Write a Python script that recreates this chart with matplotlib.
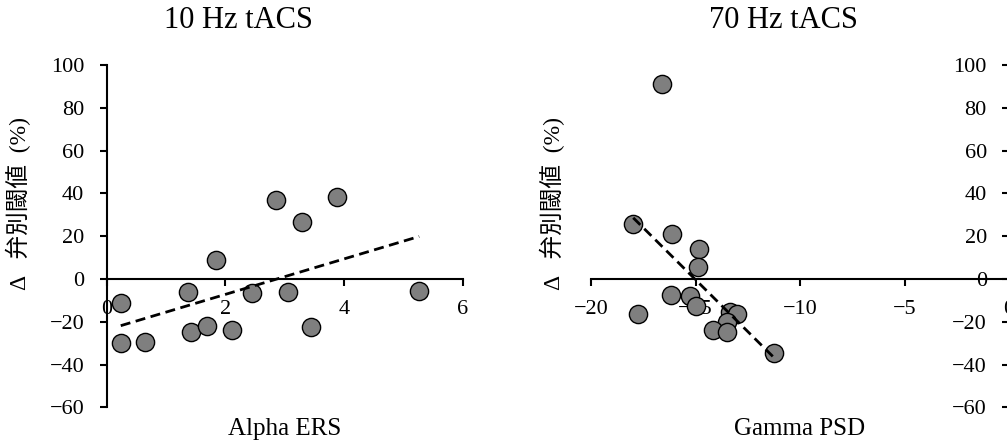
import numpy as np
import matplotlib
matplotlib.use("Agg")
import matplotlib.pyplot as plt

plt.rcParams['font.family'] = ['Liberation Serif', 'Noto Sans CJK JP']

# 10 Hz tACS: Alpha ERS vs change in discrimination threshold
alpha_ers = [0.25, 0.24, 0.65, 1.38, 1.42, 1.70, 1.85, 2.12, 2.45, 2.85, 3.06, 3.30, 3.45, 3.88, 5.27]
alpha_dthr = [-11.4, -29.9, -29.6, -5.9, -24.9, -21.8, 8.9, -23.7, -6.5, 36.9, -5.9, 26.4, -22.3, 38.5, -5.5]

# 70 Hz tACS: Gamma PSD vs change in discrimination threshold
gamma_psd = [-16.62, -17.98, -16.14, -14.82, -14.90, -17.74, -16.17, -15.26, -14.98, -13.35,
             -13.00, -13.48, -14.15, -13.51, -11.24]
gamma_dthr = [91.1, 25.8, 21.1, 14.1, 5.8, -16.4, -7.4, -7.8, -12.5, -15.6,
              -16.4, -19.9, -23.9, -24.7, -34.4]

titles = ['10 Hz tACS', '70 Hz tACS']
xlabels = ['Alpha ERS', 'Gamma PSD']
ylabel = 'Δ   弁別閾値  (%)'
yticks = [-60, -40, -20, 0, 20, 40, 60, 80, 100]

W, H = 1007, 441
fig = plt.figure(figsize=(W / 100, H / 100), dpi=100)

ax1 = fig.add_axes([106.5 / W, (H - 407.3) / H, 356 / W, 342.3 / H])
ax2 = fig.add_axes([591 / W, (H - 407.3) / H, 418 / W, 342.3 / H])

panels = [
    (ax1, alpha_ers, alpha_dthr, (0, 6), [0, 2, 4, 6]),
    (ax2, gamma_psd, gamma_dthr, (-20, 0), [-20, -15, -10, -5, 0]),
]

for i, (ax, xs, ys, xlim, xticks) in enumerate(panels):
    xs = np.array(xs)
    ys = np.array(ys)
    ax.scatter(xs, ys, s=172, c='#7f7f7f', edgecolors='black', linewidths=1.0,
               zorder=3, clip_on=False)
    # least squares trend line over the data range
    k, b = np.polyfit(xs, ys, 1)
    xl = np.array([xs.min(), xs.max()])
    ax.plot(xl, k * xl + b, color='black', lw=2.0, dashes=(3.6, 2.0), zorder=4)

    ax.set_xlim(*xlim)
    ax.set_ylim(-60, 100)
    ax.set_xticks(xticks)
    ax.set_yticks(yticks)
    ax.spines['top'].set_visible(False)
    ax.spines['right'].set_visible(False)
    ax.spines['bottom'].set_position(('data', 0))
    ax.spines['left'].set_position(('data', 0))
    for sp in ('bottom', 'left'):
        ax.spines[sp].set_linewidth(1.5)
    ax.tick_params(axis='both', direction='out', length=5, width=1.5, labelsize=16)
    ax.tick_params(axis='y', pad=11)
    ax.tick_params(axis='x', pad=10)
    ax.patch.set_visible(False)

    ax.set_xlabel(xlabels[i], fontsize=18)
    ax.xaxis.set_label_coords(0.5, -0.062)
    ax.xaxis.label.set_va('center')

fig.text(238 / W, 1 - 20 / H, titles[0], fontsize=22, ha='center', va='center')
fig.text(783 / W, 1 - 20 / H, titles[1], fontsize=22, ha='center', va='center')
fig.text(18 / W, 1 - 203 / H, ylabel, fontsize=17, rotation=90, ha='center', va='center')
fig.text(552 / W, 1 - 203 / H, ylabel, fontsize=17, rotation=90, ha='center', va='center')

fig.savefig('out.png', dpi=100)
